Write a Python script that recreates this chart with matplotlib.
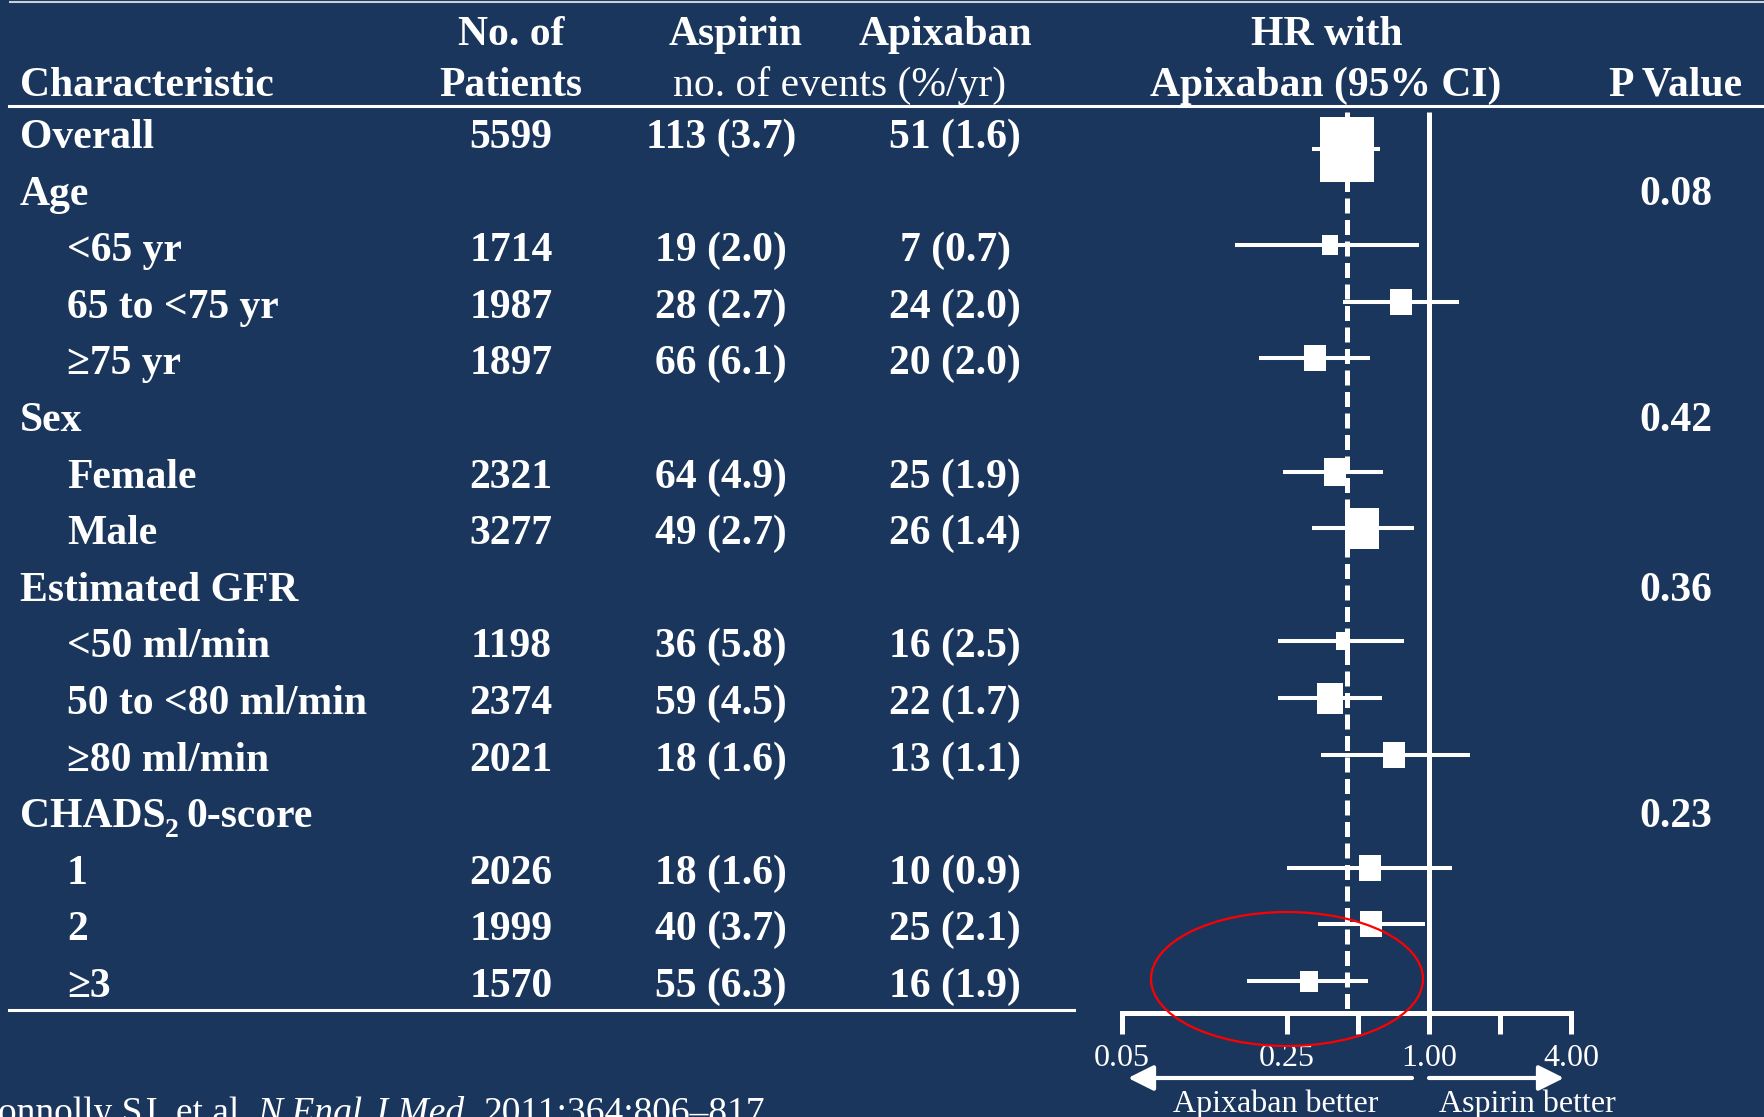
import matplotlib
matplotlib.use("Agg")
import matplotlib.pyplot as plt
import numpy as np
from matplotlib.path import Path
from matplotlib.patches import Ellipse, FancyArrowPatch
from matplotlib.ticker import NullLocator

# ---- values ----
labels = ["Overall", "Age", "<65 yr", "65 to <75 yr", "\u226575 yr", "Sex", "Female", "Male",
          "Estimated GFR", "<50 ml/min", "50 to <80 ml/min", "\u226580 ml/min",
          "CHADS2 0-score", "1", "2", "\u22653"]
indent = [0, 0, 1, 1, 1, 0, 1, 1, 0, 1, 1, 1, 0, 1, 1, 1]
n_patients = [5599, None, 1714, 1987, 1897, None, 2321, 3277, None, 1198, 2374, 2021,
              None, 2026, 1999, 1570]
asp_events = [113, None, 19, 28, 66, None, 64, 49, None, 36, 59, 18, None, 18, 40, 55]
asp_rate = [3.7, None, 2.0, 2.7, 6.1, None, 4.9, 2.7, None, 5.8, 4.5, 1.6, None, 1.6, 3.7, 6.3]
apx_events = [51, None, 7, 24, 20, None, 25, 26, None, 16, 22, 13, None, 10, 25, 16]
apx_rate = [1.6, None, 0.7, 2.0, 2.0, None, 1.9, 1.4, None, 2.5, 1.7, 1.1, None, 0.9, 2.1, 1.9]
hr = [0.45, None, 0.38, 0.76, 0.33, None, 0.40, 0.52, None, 0.43, 0.38, 0.71, None, 0.56, 0.57, 0.31]
hr_lo = [0.32, None, 0.15, 0.43, 0.19, None, 0.24, 0.32, None, 0.23, 0.23, 0.35, None, 0.25, 0.34, 0.17]
hr_hi = [0.62, None, 0.91, 1.34, 0.56, None, 0.64, 0.86, None, 0.78, 0.63, 1.49, None, 1.25, 0.96, 0.55]
p_value = [None, "0.08", None, None, None, "0.42", None, None, "0.36", None, None, None,
           "0.23", None, None, None]
overall_hr = 0.45
xtick_vals = [0.05, 0.25, 0.5, 1.0, 2.0, 4.0]
xtick_text = ["0.05", "0.25", "", "1.00", "", "4.00"]

# ---- style ----
bg = "#1a365d"
serif = ["Liberation Serif", "DejaVu Serif"]
W, H = 1764, 1117
row_px0, row_step = 132, 56.6       # pixel centre of first row, row spacing
base_off = 16                        # baseline below row centre
box_h = [65, None, 20, 26, 26, None, 28, 41, None, 18, 31, 26, None, 26, 26, 21]

def px_row(py):
    return (py - row_px0) / row_step

fig = plt.figure(figsize=(W / 100, H / 100), dpi=100, facecolor=bg)

# ---- forest plot (log2 axis) ----
x0_px, x1_px = 1122.1, 1571.0
top_px, bot_px = 106, 1013
ax = fig.add_axes([x0_px / W, 1 - bot_px / H, (x1_px - x0_px) / W, (bot_px - top_px) / H])
ax.set_facecolor("none")
ax.set_xscale("log", base=2)
ax.set_xlim(0.05, 4)
ax.set_ylim(px_row(bot_px), px_row(top_px))
for s in ["top", "left", "right"]:
    ax.spines[s].set_visible(False)
ax.spines["bottom"].set_color("white")
ax.spines["bottom"].set_linewidth(3.6)
ax.set_yticks([])
ax.set_xticks(xtick_vals)
ax.set_xticklabels(xtick_text, fontfamily=serif, fontsize=23, color="white")
ax.xaxis.set_minor_locator(NullLocator())
ax.tick_params(axis="x", direction="out", length=15, width=3.6, color="white", pad=7)

ax.vlines(1.0, px_row(112), px_row(bot_px), color="white", lw=3.6, zorder=2, clip_on=False)
ax.vlines(overall_hr, px_row(112), px_row(1009), color="white", lw=3.6,
          linestyles=(0, (3.0, 1.3)), zorder=4, clip_on=False)

box = Path([(-0.82, -1), (0.82, -1), (0.82, 1), (-0.82, 1), (-0.82, -1)],
           [Path.MOVETO, Path.LINETO, Path.LINETO, Path.LINETO, Path.CLOSEPOLY])
for i in range(len(labels)):
    if hr[i] is None:
        continue
    y = i + (0.3 if i == 0 else 0.0)
    ax.hlines(y, hr_lo[i], hr_hi[i], color="white", lw=2.9, zorder=3, clip_on=False)
    ax.plot([hr[i]], [y], marker=box, ms=box_h[i] * 0.72, color="white", mew=0,
            zorder=5, clip_on=False)

# ---- table text overlay (pixel coordinates) ----
ov = fig.add_axes([0, 0, 1, 1], zorder=10)
ov.set_facecolor("none")
ov.set_xlim(0, W)
ov.set_ylim(H, 0)
ov.axis("off")
rend = fig.canvas.get_renderer()

bold = dict(fontfamily=serif, fontweight="bold", fontsize=30, color="white", va="baseline")
reg = dict(fontfamily=serif, fontsize=30, color="white", va="baseline")

# header
ov.plot([10, W], [2, 2], color="#c9d1dc", lw=1.5)
y1, y2 = 45, 96
ov.text(511, y1, "No. of", ha="center", **bold)
ov.text(736, y1, "Aspirin", ha="center", **bold)
ov.text(945, y1, "Apixaban", ha="center", **bold)
ov.text(1327, y1, "HR with", ha="center", **bold)
ov.text(20, y2, "Characteristic", ha="left", **bold)
ov.text(511, y2, "Patients", ha="center", **bold)
ov.text(840, y2, "no. of events (%/yr)", ha="center", **reg)
ov.text(1326, y2, "Apixaban (95% CI)", ha="center", **bold)
ov.text(1676, y2, "P Value", ha="center", **bold)
ov.plot([9, W], [106, 106], color="white", lw=2.2)
ov.plot([9, 1074], [1010, 1010], color="white", lw=2.2)

for i, lab in enumerate(labels):
    yb = row_px0 + row_step * i + base_off
    x = 67 if indent[i] else 20
    if lab.startswith("CHADS2"):
        t = ov.text(x, yb, "CHADS", ha="left", **bold)
        xe = x + t.get_window_extent(rend).width - 1
        t2 = ov.text(xe, yb + 10, "2", ha="left", fontfamily=serif, fontweight="bold",
                     fontsize=20, color="white", va="baseline")
        xe += t2.get_window_extent(rend).width + 8
        ov.text(xe, yb, lab.split(" ", 1)[1], ha="left", **bold)
    else:
        ov.text(x, yb, lab, ha="left", **bold)
    if n_patients[i] is not None:
        ov.text(511, yb, str(n_patients[i]), ha="center", **bold)
        ov.text(721, yb, f"{asp_events[i]} ({asp_rate[i]:.1f})", ha="center", **bold)
        ov.text(955, yb, f"{apx_events[i]} ({apx_rate[i]:.1f})", ha="center", **bold)
    if p_value[i] is not None:
        ov.text(1676, yb, p_value[i], ha="center", **bold)

# direction arrows under the axis
for xa, xb in [(1412, 1128), (1429, 1564)]:
    ov.add_patch(FancyArrowPatch((xa, 1078), (xb, 1078),
                                 arrowstyle="-|>,head_length=0.7,head_width=0.35",
                                 mutation_scale=22, lw=3, color="white", shrinkA=0, shrinkB=0))
small = dict(fontfamily=serif, fontsize=23, color="white", va="baseline", ha="center")
ov.text(1276, 1112, "Apixaban better", **small)
ov.text(1527, 1112, "Aspirin better", **small)

# red highlight ellipse
ov.add_patch(Ellipse((1287, 979), 272, 134, fill=False, edgecolor="#ff0000", lw=1.6))

# citation, clipped at the slide edge
cite = [("Connolly SJ, et al.", "normal"), ("N Engl J Med.", "italic"), ("2011;364:806\u2013817.", "normal")]
xc = -27
for txt, st in cite:
    t = ov.text(xc, 1123, txt, ha="left", va="baseline", fontfamily=serif, fontsize=27,
                fontstyle=st, color="white")
    xc += t.get_window_extent(rend).width + 9

fig.savefig("out.png", dpi=100, facecolor=bg)
